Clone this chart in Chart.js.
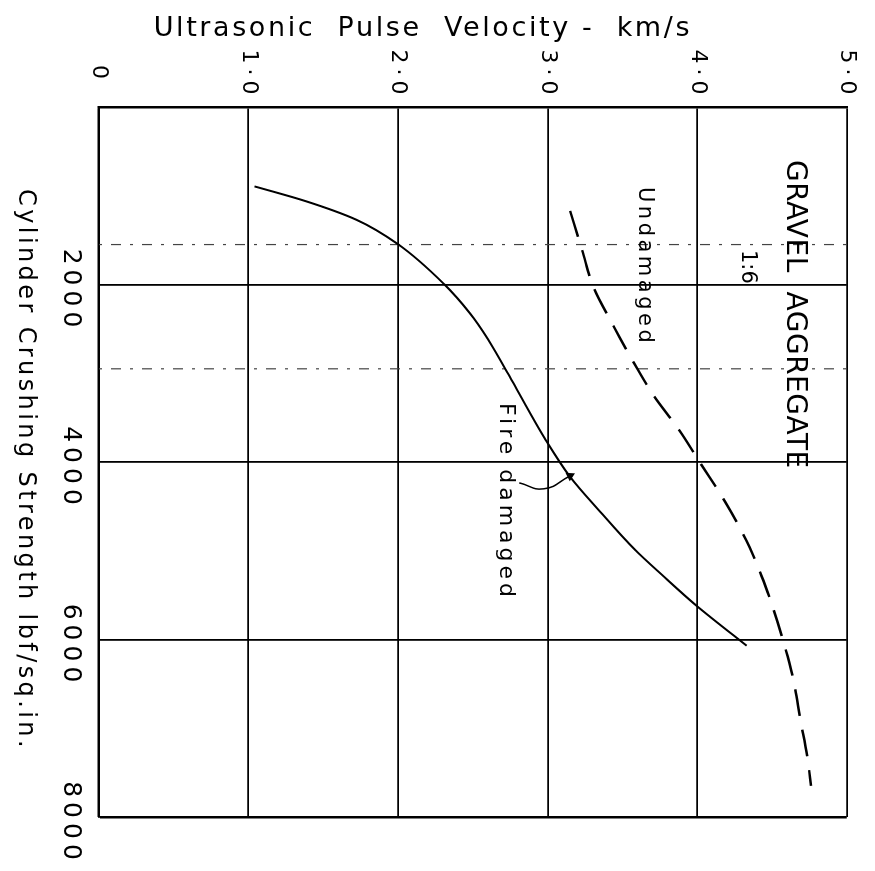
<!DOCTYPE html>
<html>
<head>
<meta charset="utf-8">
<script src="https://cdn.jsdelivr.net/npm/chart.js@4.4.0/dist/chart.umd.min.js"></script>
<style>
  html, body { margin: 0; padding: 0; background: #fff; overflow: hidden; }
  /* the sheet is drawn upright, then turned a quarter clockwise like the scan */
  #turn {
    position: absolute; left: 0; top: 0;
    width: 871px; height: 875px;
    transform-origin: 0 0;
    transform: translate(875px, 0) rotate(90deg);
  }
</style>
</head>
<body>
<div id="turn"><canvas id="chart" width="871" height="875"></canvas></div>
<script>
// Axis ticks
const strengthTicks = [0, 2000, 4000, 6000, 8000];
const strengthTickLabels = ['', '2000', '4000', '6000', '8000'];
const velocityTicks = [0, 1, 2, 3, 4, 5];
const velocityTickLabels = ['0', '1·0', '2·0', '3·0', '4·0', '5·0'];

// Fire damaged curve (lbf/sq.in. vs km/s)
const fireStrength = [895, 1060, 1270, 1547, 2000, 2324, 2615, 3140, 3732, 4168, 4559, 4983, 5296, 5598, 6070];
const fireVelocity = [1.04, 1.38, 1.72, 2.00, 2.31, 2.48, 2.60, 2.78, 2.98, 3.15, 3.35, 3.58, 3.78, 3.98, 4.33];

// Undamaged curve
const undamagedStrength = [1171, 1613, 2045, 2436, 2804, 3229, 3642, 4011, 4458, 4961, 5464, 5989, 6433, 6901, 7368, 7649];
const undamagedVelocity = [3.15, 3.23, 3.31, 3.43, 3.55, 3.70, 3.88, 4.02, 4.19, 4.35, 4.47, 4.57, 4.64, 4.69, 4.74, 4.76];

// Hooked leader from the "Fire damaged" note to its curve
const leaderStrength = [4235, 4302, 4156];
const leaderVelocity = [2.81, 2.975, 3.15];

// Faint dotted rules left on the sheet
const faintStrength = [1550, 2950];

const FONT = "'DejaVu Sans', sans-serif";

function toPoints(xs, ys) {
    return xs.map((x, i) => ({ x: x, y: ys[i] }));
}

const notes = [
    { text: 'GRAVEL  AGGREGATE', at: [597, 4.6], size: 28, spacing: 0.5 },
    { text: '1:6', at: [1611, 4.3], size: 21, spacing: 0 },
    { text: 'Undamaged', at: [901, 3.61], size: 21, spacing: 3.5 },
    { text: 'Fire damaged', at: [3335, 2.68], size: 22, spacing: 4 }
];

const textPlugin = {
    id: 'sheetText',
    beforeDraw(chart) {
        chart.ctx.letterSpacing = '5px';
    },
    beforeDatasetsDraw(chart) {
        chart.ctx.letterSpacing = '0px';
    },
    afterDraw(chart) {
        const ctx = chart.ctx;
        const xs = chart.scales.x;
        const ys = chart.scales.y;
        const area = chart.chartArea;
        ctx.save();
        ctx.fillStyle = '#000';

        // notes inside the plot
        ctx.textAlign = 'left';
        ctx.textBaseline = 'alphabetic';
        notes.forEach(n => {
            ctx.font = n.size + 'px ' + FONT;
            ctx.letterSpacing = n.spacing + 'px';
            ctx.fillText(n.text, xs.getPixelForValue(n.at[0]), ys.getPixelForValue(n.at[1]));
        });

        // axis titles
        ctx.textAlign = 'center';
        ctx.textBaseline = 'middle';
        ctx.font = '24px ' + FONT;
        ctx.letterSpacing = '3.4px';
        ctx.fillText('Cylinder Crushing Strength lbf/sq.in.', (area.left + area.right) / 2 + 8, area.bottom + 74);

        ctx.save();
        ctx.translate(area.left - 78, (area.top + area.bottom) / 2 + 50);
        ctx.rotate(-Math.PI / 2);
        ctx.font = '27px ' + FONT;
        ctx.letterSpacing = '2.6px';
        ctx.fillText('Ultrasonic  Pulse  Velocity -  km/s', 0, 0);
        ctx.restore();

        ctx.letterSpacing = '0px';
        ctx.restore();
    }
};

const datasets = [
    {
        label: 'Fire damaged',
        data: toPoints(fireStrength, fireVelocity),
        borderColor: '#000',
        borderWidth: 2,
        cubicInterpolationMode: 'monotone'
    },
    {
        label: 'Undamaged',
        data: toPoints(undamagedStrength, undamagedVelocity),
        borderColor: '#000',
        borderWidth: 2.5,
        borderDash: [27, 14],
        cubicInterpolationMode: 'monotone'
    },
    {
        label: 'leader',
        data: toPoints(leaderStrength, leaderVelocity),
        borderColor: '#000',
        borderWidth: 1.5,
        tension: 0.5,
        pointRadius: [0, 0, 4],
        pointStyle: 'triangle',
        rotation: -27,
        pointBackgroundColor: '#000',
        pointBorderColor: '#000'
    }
];

faintStrength.forEach(s => {
    datasets.push({
        label: 'rule',
        data: [{ x: s, y: velocityTicks[0] }, { x: s, y: velocityTicks[velocityTicks.length - 1] }],
        borderColor: '#444',
        borderWidth: 1.2,
        borderDash: [3, 9, 10, 9]
    });
});

new Chart(document.getElementById('chart'), {
    type: 'scatter',
    data: { datasets: datasets },
    options: {
        responsive: false,
        animation: false,
        showLine: true,
        layout: { padding: { top: 21, right: 54, left: 0, bottom: 0 } },
        elements: { point: { radius: 0, hoverRadius: 0 } },
        plugins: { legend: { display: false }, tooltip: { enabled: false } },
        scales: {
            x: {
                type: 'linear',
                position: 'bottom',
                min: strengthTicks[0],
                max: strengthTicks[strengthTicks.length - 1],
                afterBuildTicks: axis => { axis.ticks = strengthTicks.map(v => ({ value: v })); },
                afterFit: axis => { axis.height = 99; },
                grid: {
                    color: '#000',
                    drawTicks: false,
                    lineWidth: c => (c.tick && c.tick.value === 8000 ? 2.5 : 1.8)
                },
                border: { color: '#000', width: 2 },
                ticks: {
                    color: '#000',
                    padding: 13,
                    labelOffset: 6,
                    maxRotation: 0,
                    font: { family: FONT, size: 25 },
                    callback: v => strengthTickLabels[strengthTicks.indexOf(v)] || ''
                }
            },
            y: {
                type: 'linear',
                position: 'left',
                min: velocityTicks[0],
                max: velocityTicks[velocityTicks.length - 1],
                afterBuildTicks: axis => { axis.ticks = velocityTicks.map(v => ({ value: v })); },
                afterFit: axis => { axis.width = 107; },
                grid: {
                    color: '#000',
                    drawTicks: false,
                    lineWidth: c => (c.tick && c.tick.value === 0 ? 2.5 : 1.8)
                },
                border: { color: '#000', width: 2.5 },
                ticks: {
                    color: '#000',
                    padding: 15,
                    crossAlign: 'center',
                    font: { family: FONT, size: 22 },
                    callback: v => velocityTickLabels[velocityTicks.indexOf(v)] || ''
                }
            }
        }
    },
    plugins: [textPlugin]
});
</script>
</body>
</html>
